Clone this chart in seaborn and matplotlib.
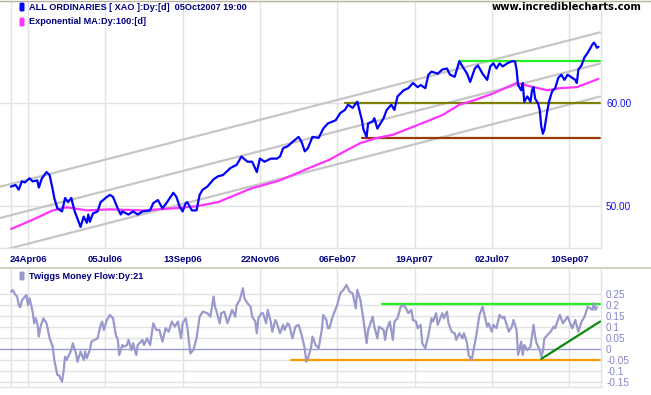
import matplotlib
matplotlib.use("Agg")
import matplotlib.pyplot as plt
import matplotlib.lines as mlines
from matplotlib.patches import FancyBboxPatch
import pandas as pd
import seaborn as sns

# ---------------- data (x = trading days from 24Apr06) ----------------
tick_days = [0, 50, 100, 150, 200, 250, 300, 350]
tick_labels = ["24Apr06", "05Jul06", "13Sep06", "22Nov06",
               "06Feb07", "19Apr07", "02Jul07", "10Sep07"]

price_day = [-11, -8, -6, -4, -2, 1, 3, 6, 7, 9, 12, 14, 16, 17, 19, 22, 24, 26, 28, 30,
             32, 34, 36, 38, 39, 40, 42, 45, 47, 51, 53, 55, 58, 60, 61, 65, 68, 71, 74, 79,
             81, 84, 87, 90, 94, 96, 98, 100, 102, 103, 106, 109, 111, 113, 116, 120, 123, 126, 131, 135,
             138, 142, 145, 148, 150, 153, 157, 161, 163, 165, 168, 171, 175, 177, 179, 181, 184, 188, 191, 194,
             199, 202, 205, 207, 210, 212, 213, 216, 217, 219, 220, 223, 224, 226, 230, 232, 235, 237, 239, 243,
             246, 249, 252, 254, 257, 259, 261, 265, 268, 271, 273, 276, 279, 281, 284, 286, 289, 291, 294, 297,
             299, 301, 303, 305, 307, 310, 313, 315, 316, 317, 319, 320, 321, 323, 325, 326, 327, 328, 330, 331,
             332, 333, 334, 336, 337, 339, 341, 343, 345, 347, 349, 352, 354, 355, 356, 358, 360, 362, 365, 366,
             367, 368, 369]
price_val = [51.9, 52.05, 51.6, 52.4, 52.3, 52.7, 52.4, 52.5, 51.8, 52.7, 53.3, 53.0, 51.6, 50.8, 49.8, 49.5, 50.8, 50.4, 50.8, 49.6,
             48.8, 48.0, 49.0, 48.4, 49.2, 48.5, 49.3, 49.5, 50.4, 50.9, 51.1, 50.9, 49.8, 49.2, 49.5, 49.2, 49.5, 49.2, 49.5, 49.6,
             50.3, 50.6, 49.8, 50.4, 51.3, 50.9, 50.0, 49.5, 50.3, 50.4, 49.6, 49.6, 51.1, 51.6, 51.9, 52.6, 52.9, 53.0, 53.7, 54.0,
             54.8, 54.3, 54.3, 53.3, 54.6, 54.3, 54.6, 54.6, 54.8, 55.6, 55.8, 56.2, 56.7, 56.2, 55.3, 55.6, 56.7, 56.6, 57.5, 58.0,
             58.3, 59.0, 59.3, 59.8, 59.5, 59.9, 60.1, 58.3, 57.4, 56.7, 58.0, 58.2, 58.5, 57.5, 58.5, 59.3, 59.8, 59.3, 60.6, 61.2,
             61.4, 61.9, 61.5, 61.7, 61.4, 62.7, 63.0, 62.8, 63.2, 63.3, 62.7, 62.5, 64.0, 63.5, 62.8, 62.0, 63.3, 63.6, 62.8, 62.2,
             63.5, 63.8, 63.3, 63.8, 63.5, 63.8, 64.0, 64.0, 63.2, 61.7, 61.2, 61.9, 60.1, 60.6, 60.1, 61.2, 61.5, 60.4, 59.9, 59.3,
             57.7, 57.0, 57.4, 59.3, 60.1, 61.1, 61.4, 62.4, 62.7, 62.2, 62.7, 62.4, 62.2, 61.9, 63.2, 63.6, 64.4, 64.8, 65.6, 65.8,
             65.6, 65.3, 65.4]

ema_day = [-11, 3, 16, 25, 38, 53, 74, 94, 109, 123, 144, 163, 182, 195, 206, 215, 226, 236, 258, 268,
           279, 290, 301, 316, 327, 336, 344, 355, 369]
ema_val = [47.8, 48.7, 49.6, 49.9, 49.6, 49.7, 49.6, 49.8, 50.0, 50.4, 51.7, 52.5, 53.7, 54.5, 55.4, 56.1, 56.6, 56.9, 58.2, 58.8,
           59.8, 60.3, 60.9, 61.9, 61.5, 61.2, 61.4, 61.5, 62.3]

channel_day = [-18, 370]
channel_upper = [51.89, 66.79]
channel_mid = [48.87, 63.77]
channel_lower = [45.69, 60.59]

level_val = [64.05, 60.0, 56.6]
level_start = [279, 205, 216]
level_end = 370

tmf_day = [-11, -10, -8, -7, -6, -5, -4, -3, -1, 0, 1, 3, 4, 5, 6, 7, 8, 10, 12, 14,
           16, 17, 19, 20, 22, 23, 24, 25, 26, 28, 29, 31, 32, 34, 36, 37, 38, 40, 41, 43,
           45, 47, 48, 49, 51, 53, 55, 57, 58, 59, 61, 62, 64, 65, 67, 68, 70, 71, 74, 75,
           77, 79, 81, 83, 85, 87, 89, 91, 93, 95, 97, 99, 100, 102, 103, 105, 107, 109, 111, 113,
           116, 118, 120, 121, 122, 124, 125, 127, 129, 132, 134, 135, 137, 139, 140, 142, 144, 145, 147, 148,
           149, 151, 152, 154, 155, 157, 158, 160, 161, 163, 165, 166, 168, 169, 171, 173, 175, 177, 179, 180,
           181, 183, 184, 186, 188, 190, 191, 193, 194, 195, 197, 200, 202, 204, 206, 208, 210, 212, 213, 215,
           217, 219, 220, 223, 224, 226, 227, 230, 231, 232, 234, 236, 237, 239, 241, 243, 245, 246, 248, 249,
           251, 252, 254, 255, 257, 259, 261, 262, 264, 265, 268, 269, 271, 272, 274, 276, 277, 279, 281, 282,
           284, 285, 287, 288, 290, 292, 294, 295, 297, 298, 300, 301, 303, 305, 307, 308, 310, 311, 313, 314,
           316, 317, 319, 320, 321, 323, 325, 327, 328, 329, 331, 332, 333, 334, 336, 338, 340, 341, 342, 344,
           346, 349, 352, 354, 356, 358, 360, 362, 365, 366, 367, 368]
tmf_val = [0.26, 0.268, 0.245, 0.238, 0.20, 0.19, 0.22, 0.23, 0.245, 0.20, 0.23, 0.17, 0.117, 0.14, 0.117, 0.057, 0.10, 0.14, 0.117, 0.05,
           0.011, -0.049, -0.117, -0.117, -0.147, -0.10, -0.034, -0.049, -0.034, -0.004, 0.027, -0.019, -0.057, -0.011, -0.049, -0.011, -0.041, -0.004, 0.034, 0.042,
           0.049, 0.11, 0.125, 0.087, 0.132, 0.155, 0.14, 0.057, 0.049, -0.026, 0.019, 0.011, 0.019, 0.042, -0.004, 0.027, -0.026, 0.019, 0.042, 0.019,
           0.049, 0.019, 0.117, 0.087, 0.087, 0.034, 0.095, 0.079, 0.125, 0.102, 0.125, 0.049, 0.117, 0.14, 0.102, -0.019, -0.004, 0.049, 0.147, 0.17,
           0.163, 0.147, 0.238, 0.192, 0.17, 0.117, 0.163, 0.17, 0.117, 0.178, 0.147, 0.20, 0.223, 0.276, 0.23, 0.208, 0.192, 0.147, 0.125, 0.072,
           0.14, 0.163, 0.163, 0.117, 0.178, 0.125, 0.079, 0.132, 0.117, 0.072, 0.11, 0.087, 0.117, 0.11, 0.049, 0.102, 0.11, 0.064, 0.004, -0.057,
           -0.041, 0.004, 0.057, 0.019, 0.004, 0.087, 0.155, 0.132, 0.095, 0.095, 0.147, 0.20, 0.253, 0.268, 0.291, 0.26, 0.253, 0.185, 0.268, 0.223,
           0.132, 0.027, 0.087, 0.147, 0.102, 0.049, 0.102, 0.087, 0.042, 0.087, 0.125, 0.042, 0.125, 0.14, 0.192, 0.20, 0.178, 0.163, 0.178, 0.132,
           0.125, 0.095, 0.11, 0.027, 0.004, 0.064, 0.14, 0.125, 0.163, 0.11, 0.163, 0.14, 0.17, 0.117, 0.079, 0.072, 0.042, 0.072, 0.049, 0.072,
           0.027, -0.026, -0.049, -0.011, 0.064, 0.155, 0.192, 0.163, 0.102, 0.117, 0.079, 0.11, 0.095, 0.155, 0.14, 0.147, 0.102, 0.079, 0.102, 0.132,
           0.087, -0.026, 0.034, -0.026, 0.019, -0.004, 0.011, 0.11, 0.057, 0.027, -0.004, -0.034, -0.011, 0.049, 0.064, 0.079, 0.102, 0.095, 0.117, 0.155,
           0.117, 0.147, 0.095, 0.132, 0.079, 0.125, 0.147, 0.192, 0.178, 0.208, 0.178, 0.19]

tmf_level_val = [0.205, -0.05]
tmf_level_start = [229, 170]
tmf_trend_day = [332, 370]
tmf_trend_val = [-0.044, 0.125]

top_ticks = [50, 60]
top_tick_labels = ["50.00", "60.00"]
tmf_ticks = [-0.15, -0.1, -0.05, 0, 0.05, 0.1, 0.15, 0.2, 0.25]
tmf_tick_labels = ["-0.15", "-0.1", "-0.05", "0", "0.05", "0.1", "0.15", "0.2", "0.25"]

# ---------------- styling ----------------
sns.set_style("white")
plt.rcParams["font.family"] = ["Liberation Sans", "DejaVu Sans"]

W, H = 651, 395
fig = plt.figure(figsize=(W / 100, H / 100), dpi=100)

def fy(px):
    return 1 - px / H

GRID = "#E2E2E2"
XMIN, XMAX = -18.11, 370.3

ax1 = fig.add_axes([0, fy(248), 600.5 / W, (248 - 2) / H])
ax2 = fig.add_axes([0, fy(387.3), 600.5 / W, (387.3 - 269) / H])

for ax in (ax1, ax2):
    ax.set_xlim(XMIN, XMAX)
    ax.set_facecolor("white")
    for s in ("left", "top"):
        ax.spines[s].set_visible(False)
    for s in ("right", "bottom"):
        ax.spines[s].set_color(GRID)
        ax.spines[s].set_linewidth(1.0)
    ax.set_xticks(tick_days)
    for d in tick_days:
        ax.axvline(d, color=GRID, lw=1.0, zorder=0)
    ax.axvline(-11, color=GRID, lw=1.0, zorder=0)
    ax.yaxis.tick_right()
    ax.tick_params(axis="both", length=0)
    ax.set_xlabel("")
    ax.set_ylabel("")

# top panel
ax1.set_ylim(45.97, 69.72)
ax1.set_yticks(top_ticks)
ax1.set_yticklabels(top_tick_labels, color="#1010F0", fontsize=7.2)
ax1.tick_params(axis="y", pad=4)
for t in top_ticks:
    ax1.axhline(t, color=GRID, lw=1.0, zorder=0)

for vals in (channel_upper, channel_mid, channel_lower):
    sns.lineplot(x=channel_day, y=vals, ax=ax1, color="#C6C6C6", lw=1.6, zorder=1)

level_colors = ["#22EE22", "#808000", "#9A3A08"]
for v, s0, c in zip(level_val, level_start, level_colors):
    sns.lineplot(x=[s0, level_end], y=[v, v], ax=ax1, color=c, lw=1.6, zorder=2)

df_ema = pd.DataFrame({"day": ema_day, "val": ema_val})
sns.lineplot(data=df_ema, x="day", y="val", ax=ax1, color="#FF33FF", lw=1.6,
             sort=False, estimator=None, zorder=3)
df_price = pd.DataFrame({"day": price_day, "val": price_val})
sns.lineplot(data=df_price, x="day", y="val", ax=ax1, color="#0000FF", lw=1.6,
             sort=False, estimator=None, zorder=4)

ax1.set_xticklabels(tick_labels, color="#00007F", fontsize=6.8, fontweight="bold")
ax1.tick_params(axis="x", pad=5)
ax1.set_xlabel("")
ax1.set_ylabel("")

# bottom panel
ax2.set_ylim(-0.1726, 0.363)
ax2.set_yticks(tmf_ticks)
ax2.set_yticklabels(tmf_tick_labels, color="#8484C8", fontsize=7.2)
ax2.tick_params(axis="y", pad=4)
ax2.set_xticklabels([])
for t in tmf_ticks:
    if t != 0:
        ax2.axhline(t, color=GRID, lw=1.0, zorder=0)
ax2.axhline(0, color="#9999CC", lw=1.0, zorder=1)

sns.lineplot(x=[tmf_level_start[0], level_end], y=[tmf_level_val[0]] * 2, ax=ax2,
             color="#22EE22", lw=1.6, zorder=2)
sns.lineplot(x=[tmf_level_start[1], level_end], y=[tmf_level_val[1]] * 2, ax=ax2,
             color="#FF9900", lw=1.6, zorder=2)
df_tmf = pd.DataFrame({"day": tmf_day, "val": tmf_val})
sns.lineplot(data=df_tmf, x="day", y="val", ax=ax2, color="#9999CC", lw=1.6,
             sort=False, estimator=None, zorder=3)
sns.lineplot(x=tmf_trend_day, y=tmf_trend_val, ax=ax2, color="#0A8A0A", lw=1.6, zorder=4)
ax2.set_xlabel("")
ax2.set_ylabel("")

# frame lines
fig.add_artist(mlines.Line2D([0, 1], [fy(267.5), fy(267.5)], color="#D4D0C8", lw=1.5))
fig.add_artist(mlines.Line2D([0, 1], [fy(0.5), fy(0.5)], color="#B8B0A0", lw=1.0))

# legend labels
def swatch(px_y, color):
    fig.add_artist(FancyBboxPatch((19.5 / W, fy(px_y + 4.5)), 5 / W, 9 / H,
                                  boxstyle="round,pad=0,rounding_size=0.003",
                                  transform=fig.transFigure, color=color, lw=0))

swatch(7, "#0000FF")
swatch(22, "#FF33FF")
swatch(276, "#9999CC")
lbl = dict(color="#00007F", fontsize=6.6, fontweight="bold", va="center", ha="left")
fig.text(29 / W, fy(7), "ALL ORDINARIES [ XAO ]:Dy:[d]  05Oct2007 19:00", **lbl)
fig.text(29 / W, fy(22), "Exponential MA:Dy:100:[d]", **lbl)
fig.text(29 / W, fy(276.5), "Twiggs Money Flow:Dy:21", **lbl)
fig.text(642 / W, fy(7), "www.incrediblecharts.com", color="black", fontsize=7.2,
         fontweight="bold", va="center", ha="right", family=["DejaVu Sans"])

fig.savefig("out.png", dpi=100)
